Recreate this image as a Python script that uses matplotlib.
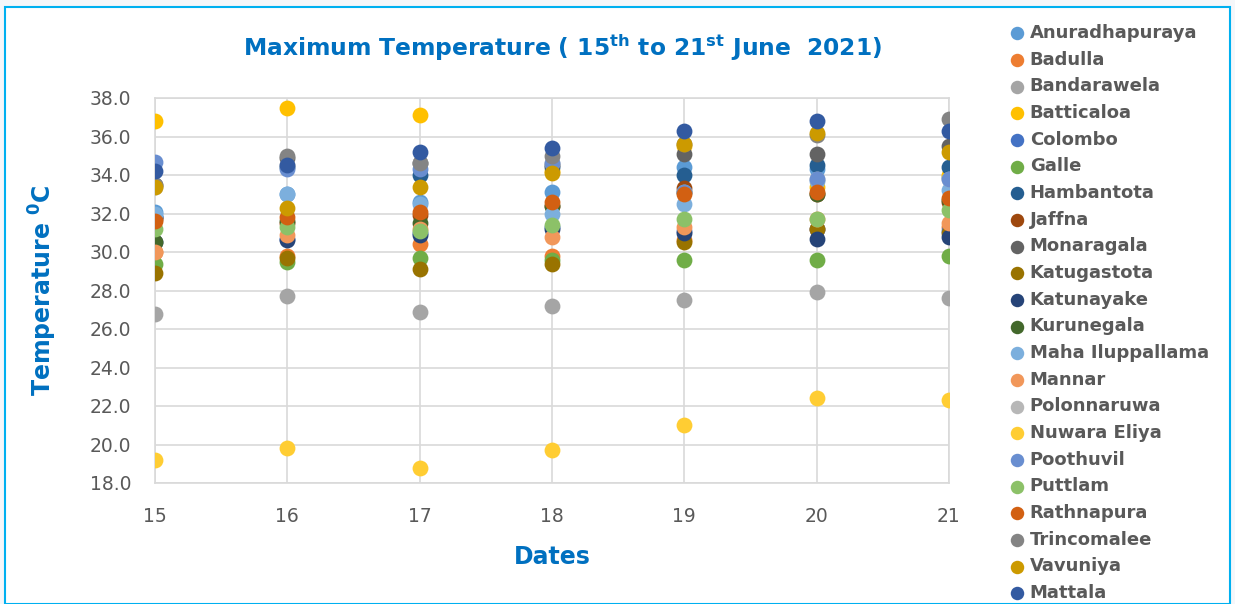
import matplotlib
matplotlib.use("Agg")
import matplotlib.pyplot as plt
from matplotlib.patches import Rectangle

dates = [15, 16, 17, 18, 19, 20, 21]

stations = ["Anuradhapuraya", "Badulla", "Bandarawela", "Batticaloa", "Colombo", "Galle",
            "Hambantota", "Jaffna", "Monaragala", "Katugastota", "Katunayake", "Kurunegala",
            "Maha Iluppallama", "Mannar", "Polonnaruwa", "Nuwara Eliya", "Poothuvil",
            "Puttlam", "Rathnapura", "Trincomalee", "Vavuniya", "Mattala"]

colors = ["#5B9BD5", "#ED7D31", "#A5A5A5", "#FFC000", "#4472C4", "#70AD47",
          "#255E91", "#9E480E", "#636363", "#997300", "#264478", "#43682B",
          "#7CAFDD", "#F1975A", "#B7B7B7", "#FFCD33", "#698ED0",
          "#8CC168", "#D26012", "#848484", "#CC9A00", "#335AA1"]

anuradhapuraya = [32.1, 33.0, 32.6, 33.1, 34.4, 34.3, 33.9]
badulla = [30.0, 29.8, 30.4, 29.8, 30.6, 31.2, 31.3]
bandarawela = [26.8, 27.7, 26.9, 27.2, 27.5, 27.9, 27.6]
batticaloa = [36.8, 37.5, 37.1, 34.2, 35.5, 33.4, 34.0]
colombo = [31.8, 30.7, 31.0, 31.3, 31.1, 31.2, 31.1]
galle = [29.4, 29.5, 29.7, 29.6, 29.6, 29.6, 29.8]
hambantota = [31.8, 34.4, 34.0, 34.4, 34.0, 34.5, 34.4]
jaffna = [31.7, 31.5, 31.9, 32.4, 33.3, 33.0, 32.6]
monaragala = [33.5, 34.9, 34.6, 34.5, 35.1, 35.1, 35.5]
katugastota = [28.9, 29.7, 29.1, 29.4, 30.5, 31.2, 31.0]
katunayake = [30.5, 30.6, 30.9, 31.2, 31.0, 30.7, 30.8]
kurunegala = [30.5, 31.6, 31.5, 32.4, 33.1, 33.0, 32.7]
maha_iluppallama = [32.0, 33.0, 32.5, 32.0, 32.5, 33.7, 33.2]
mannar = [30.0, 30.9, 31.2, 30.8, 31.3, 31.7, 31.5]
polonnaruwa = [33.4, 34.5, 34.6, 34.6, 33.1, 33.8, 33.8]
nuwara_eliya = [19.2, 19.8, 18.8, 19.7, 21.0, 22.4, 22.3]
poothuvil = [34.7, 34.3, 34.3, 34.6, 33.1, 33.8, 33.8]
puttlam = [31.2, 31.3, 31.1, 31.4, 31.7, 31.7, 32.2]
rathnapura = [31.6, 31.8, 32.1, 32.6, 33.0, 33.1, 32.8]
trincomalee = [33.5, 35.0, 34.6, 35.0, 35.6, 36.1, 36.9]
vavuniya = [33.4, 32.3, 33.4, 34.1, 35.6, 36.2, 35.2]
mattala = [34.2, 34.5, 35.2, 35.4, 36.3, 36.8, 36.3]

series = [anuradhapuraya, badulla, bandarawela, batticaloa, colombo, galle,
          hambantota, jaffna, monaragala, katugastota, katunayake, kurunegala,
          maha_iluppallama, mannar, polonnaruwa, nuwara_eliya, poothuvil,
          puttlam, rathnapura, trincomalee, vavuniya, mattala]

y_ticks = [18, 20, 22, 24, 26, 28, 30, 32, 34, 36, 38]

W, H = 1235, 604
fig = plt.figure(figsize=(W / 100, H / 100), dpi=100)
fig.patch.set_facecolor("#F5F7FA")
# chart frame
frame = Rectangle((5 / W, 0), (1230 - 5) / W, 1 - 7 / H,
                  transform=fig.transFigure, facecolor="white",
                  edgecolor="#00B0F0", linewidth=1.5, zorder=-10)
fig.add_artist(frame)

ax = fig.add_axes([155 / W, 1 - 483 / H, (949 - 155) / W, (483 - 98) / H])
ax.set_zorder(1)
ax.set_facecolor("white")
for name, vals, c in zip(stations, series, colors):
    ax.scatter(dates, vals, s=130, color=c, label=name, zorder=3, linewidths=0)

ax.set_xlim(15, 21)
ax.set_ylim(18, 38)
ax.set_xticks(dates)
ax.set_yticks(y_ticks)
ax.set_yticklabels([f"{v:.1f}" for v in y_ticks])
ax.grid(True, color="#D9D9D9", linewidth=1.2, zorder=0)
ax.set_axisbelow(True)
for sp in ax.spines.values():
    sp.set_color("#D9D9D9")
    sp.set_linewidth(1.2)
ax.tick_params(axis="both", length=0, labelsize=13.5, colors="#595959")
ax.tick_params(axis="x", pad=17)
ax.tick_params(axis="y", pad=17)

ax.set_xlabel("Dates", fontsize=17, fontweight="bold", color="#0070C0", labelpad=14)
ax.set_ylabel("Temperature $\\mathbf{^{0}}$C", fontsize=17, fontweight="bold",
              color="#0070C0", labelpad=22)

fig.text(563 / W, 1 - 48 / H,
         "Maximum Temperature ( 15$\\mathbf{^{th}}$ to 21$\\mathbf{^{st}}$ June  2021)",
         ha="center", va="center", fontsize=16.8, fontweight="bold", color="#0070C0")

leg = fig.legend(loc="upper left", bbox_to_anchor=(1008 / W, 1 - 24 / H),
                 frameon=False, fontsize=13, labelspacing=0.48, handletextpad=0.2,
                 handlelength=1.0, borderaxespad=0, borderpad=0, markerscale=0.85)
for t in leg.get_texts():
    t.set_color("#595959")
    t.set_fontweight("bold")

fig.savefig("out.png", dpi=100, facecolor=fig.get_facecolor())
